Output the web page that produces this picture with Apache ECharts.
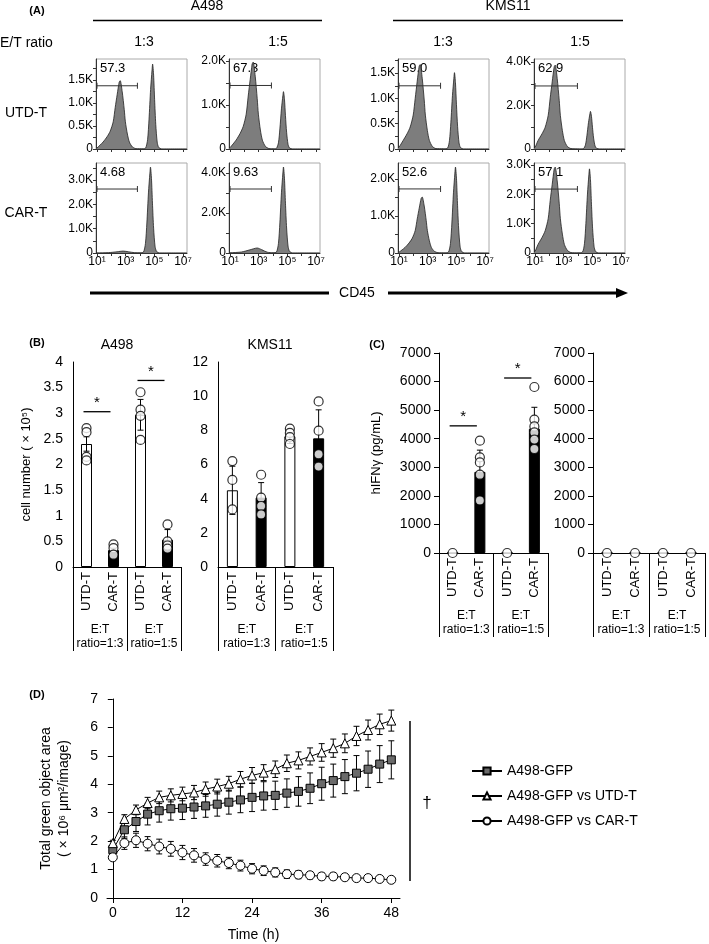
<!DOCTYPE html>
<html><head><meta charset="utf-8">
<script src="https://cdn.jsdelivr.net/npm/echarts@6/dist/echarts.min.js"></script>
<style>html,body{margin:0;padding:0;background:#fff}#c{width:709px;height:944px}</style>
</head><body><div id="c"></div>
<script>
const FONT = '"Liberation Sans", Arial, sans-serif';

// ---------- Panel A: CD45 histograms (x = log10 CD45, y = count) ----------
const histA498UTD13 = [[0.93,15],[1.0,22],[1.42,150],[1.7,265],[1.92,385],[2.13,590],[2.27,900],[2.41,1185],[2.55,1450],[2.62,1480],[2.76,1240],[2.9,860],[2.98,590],[3.12,325],[3.26,150],[3.47,45],[3.72,8],[4.2,5],[4.39,18],[4.53,200],[4.63,645],[4.74,1290],[4.84,1710],[4.88,1840],[4.95,1600],[5.02,1070],[5.1,535],[5.2,150],[5.3,37],[5.52,0],[7.28,0]];
const histA498UTD15 = [[0.93,20],[1.0,30],[1.42,200],[1.7,350],[1.92,510],[2.13,790],[2.27,1200],[2.41,1580],[2.55,1930],[2.62,1970],[2.76,1650],[2.9,1140],[2.98,790],[3.12,430],[3.26,200],[3.47,60],[3.72,10],[4.1,5],[4.24,13],[4.38,140],[4.48,455],[4.59,910],[4.69,1210],[4.73,1300],[4.8,1130],[4.87,755],[4.95,380],[5.05,105],[5.15,26],[5.37,0],[7.28,0]];
const histKMSUTD13 = [[0.93,25],[1.0,35],[1.28,165],[1.56,300],[1.78,435],[1.99,670],[2.13,1000],[2.27,1340],[2.41,1640],[2.48,1670],[2.62,1400],[2.76,970],[2.84,670],[2.98,365],[3.12,170],[3.33,50],[3.58,8],[4.1,5],[4.38,15],[4.52,165],[4.62,530],[4.73,1060],[4.83,1400],[4.87,1510],[4.94,1310],[5.01,875],[5.09,440],[5.19,120],[5.29,30],[5.51,0],[7.28,0]];
const histKMSUTD15 = [[0.93,50],[1.0,70],[1.21,385],[1.49,700],[1.71,1000],[1.92,1545],[2.06,2350],[2.2,3090],[2.34,3780],[2.41,3860],[2.55,3240],[2.69,2240],[2.77,1545],[2.91,850],[3.05,385],[3.26,115],[3.51,20],[4.1,5],[4.38,17],[4.52,190],[4.62,605],[4.73,1210],[4.83,1610],[4.87,1730],[4.94,1505],[5.01,1000],[5.09,500],[5.19,140],[5.29,35],[5.51,0],[7.28,0]];
const histA498CAR13 = [[0.93,5],[1.0,5],[1.8,15],[2.4,50],[2.83,80],[3.2,50],[3.6,15],[4.0,10],[4.24,35],[4.38,390],[4.48,1235],[4.59,2470],[4.69,3280],[4.73,3530],[4.8,3070],[4.87,2050],[4.95,1020],[5.05,280],[5.15,70],[5.37,0],[7.28,0]];
const histA498CAR15 = [[0.93,8],[1.0,10],[1.8,50],[2.4,160],[2.9,250],[3.2,170],[3.6,40],[4.0,15],[4.24,45],[4.38,475],[4.48,1505],[4.59,3010],[4.69,4000],[4.73,4300],[4.8,3740],[4.87,2490],[4.95,1250],[5.05,345],[5.15,86],[5.37,0],[7.28,0]];
const histKMSCAR13 = [[0.93,15],[1.0,22],[1.42,150],[1.7,270],[1.92,395],[2.13,605],[2.27,920],[2.41,1210],[2.55,1480],[2.62,1510],[2.76,1270],[2.9,875],[2.98,605],[3.12,330],[3.26,150],[3.47,45],[3.72,8],[4.2,5],[4.45,23],[4.59,255],[4.69,810],[4.8,1625],[4.9,2160],[4.94,2320],[5.01,2020],[5.08,1345],[5.16,675],[5.26,185],[5.36,46],[5.58,0],[7.28,0]];
const histKMSCAR15 = [[0.93,35],[1.0,50],[1.21,290],[1.49,530],[1.71,760],[1.92,1170],[2.06,1790],[2.2,2340],[2.34,2870],[2.41,2930],[2.55,2460],[2.69,1700],[2.77,1170],[2.91,645],[3.05,290],[3.26,90],[3.51,15],[4.0,5],[4.31,29],[4.45,315],[4.55,1005],[4.66,2010],[4.76,2670],[4.8,2870],[4.87,2500],[4.94,1665],[5.02,830],[5.12,230],[5.22,57],[5.44,0],[7.28,0]];
const histList = [histA498UTD13, histA498UTD15, histKMSUTD13, histKMSUTD15, histA498CAR13, histA498CAR15, histKMSCAR13, histKMSCAR15];
const gateTexts = ['57.3','67.3','59.0','62.9','4.68','9.63','52.6','57.1'];
const gateLevels = [1370,1440,1250,2900,2630,3200,1730,2180];
const gateEnds = [3.82,3.89,3.9,3.96,3.82,3.89,3.9,3.96];
const histYMax = [1950,2040,1780,4140,3700,4500,2430,3070];
const histYLabels = [[0,500,1000,1500],[0,1000,2000],[0,500,1000,1500],[0,2000,4000],[0,1000,2000,3000],[0,2000,4000],[0,1000,2000],[0,1000,2000,3000]];
const histXLabels = [1,3,5,7];
const histXTicks = [1,2,3,4,5,6,7];
const supMap = {1:'¹',3:'³',5:'⁵',7:'⁷'};

// ---------- Panel B / C ----------
const barCats = ['UTD-T','CAR-T','UTD-T','CAR-T'];
const groupCats = ['E:T\nratio=1:3','E:T\nratio=1:5'];
const bA498Means = [2.40,0.33,2.97,0.53];
const bA498SD = [0.14,0.05,0.30,0.20];
const bA498Dots = [[2.71,2.63,2.15,2.08],[0.44,0.37,0.24],[3.41,3.07,2.95,2.48],[0.83,0.50,0.42,0.36]];
const bKMSMeans = [4.49,4.06,7.65,7.53];
const bKMSSD = [1.41,0.88,0.42,1.67];
const bKMSDots = [[6.2,5.1,3.37],[5.4,4.06,3.57,3.08],[8.1,7.85,7.6,7.2],[9.69,7.98,6.6,5.88]];
const cA498Means = [0,2840,0,4350];
const cA498SD = [0,760,0,750];
const cA498Dots = [[0],[3930,3350,3170,2740,1840],[0],[5810,4670,4430,4220,3970,3640]];
const cKMSMeans = [0,0,0,0];
const cKMSSD = [0,0,0,0];
const cKMSDots = [[0],[0],[0],[0]];
const sigB = [[0,1,3.03],[2,3,3.64]];
const sigC = [[0,1,4450],[2,3,6125]];

// ---------- Panel D ----------
const timeH = [0,2,4,6,8,10,12,14,16,18,20,22,24,26,28,30,32,34,36,38,40,42,44,46,48];
const gfpMean = [1.70,2.40,2.69,2.95,3.07,3.14,3.16,3.20,3.24,3.30,3.37,3.45,3.54,3.59,3.61,3.69,3.75,3.86,4.02,4.13,4.27,4.39,4.53,4.71,4.86];
const gfpSD   = [0.15,0.30,0.35,0.38,0.40,0.40,0.40,0.40,0.40,0.42,0.42,0.45,0.50,0.50,0.50,0.50,0.52,0.54,0.58,0.58,0.60,0.62,0.64,0.65,0.67];
const utdMean = [1.93,2.78,3.10,3.34,3.54,3.61,3.66,3.71,3.83,3.92,4.02,4.18,4.31,4.41,4.53,4.74,4.84,4.98,5.12,5.27,5.44,5.70,5.91,6.11,6.24];
const utdSD   = [0.10,0.15,0.17,0.20,0.22,0.23,0.24,0.25,0.25,0.26,0.26,0.27,0.28,0.28,0.29,0.29,0.30,0.30,0.31,0.32,0.33,0.34,0.35,0.36,0.37];
const carMean = [1.43,1.93,2.03,1.91,1.81,1.73,1.60,1.50,1.37,1.31,1.23,1.14,1.03,0.96,0.90,0.84,0.82,0.80,0.76,0.76,0.73,0.70,0.70,0.67,0.64];
const carSD   = [0.10,0.22,0.25,0.25,0.26,0.26,0.25,0.24,0.22,0.22,0.20,0.19,0.18,0.17,0.16,0.15,0.14,0.13,0.12,0.12,0.11,0.10,0.10,0.10,0.10];
const dLegend = ['A498-GFP','A498-GFP vs UTD-T','A498-GFP vs CAR-T'];
const dXLabels = [0,12,24,36,48];

// ---------- build ----------
const grids = [], xAxes = [], yAxes = [], series = [], graphics = [];
const txt = (x, y, text, size, opts) => graphics.push({type:'text', x, y, style:Object.assign({text, fill:'#000', font:size+'px '+FONT, align:'center', verticalAlign:'middle'}, opts||{})});
const lineG = (x1,y1,x2,y2,w) => graphics.push({type:'line', shape:{x1,y1,x2,y2}, style:{stroke:'#000', lineWidth:w||1}});

// Panel A layout
const colLeft = [96,229,398,534], colW = 91, rowTop = [59,163], rowH = 90;
histList.forEach((h, i) => {
  const row = Math.floor(i/4), col = i%4;
  const gi = grids.length;
  grids.push({left:colLeft[col], top:rowTop[row], width:colW, height:rowH, show:true, borderColor:'#aaa', borderWidth:1});
  xAxes.push({gridIndex:gi, type:'value', min:0.93, max:7.28,
    axisLine:{show:true, lineStyle:{color:'#333', width:1}},
    axisTick:{show:true, customValues:histXTicks, length:3, lineStyle:{color:'#333'}},
    axisLabel:{show:row===1, customValues:histXLabels, formatter:v=>'10'+supMap[v], fontSize:12, color:'#000', fontFamily:FONT, margin:3},
    splitLine:{show:false}});
  const labs = histYLabels[i];
  const step = labs[1]-labs[0];
  const ticks = [];
  for (let v = 0; v <= histYMax[i]; v += step/2) ticks.push(v);
  yAxes.push({gridIndex:gi, type:'value', min:0, max:histYMax[i],
    axisLine:{show:true, lineStyle:{color:'#333', width:1}},
    axisTick:{show:true, customValues:ticks, length:3, lineStyle:{color:'#333'}},
    axisLabel:{customValues:labs, formatter:v=>v===0?'0':(v/1000).toFixed(1)+'K', fontSize:12, color:'#000', fontFamily:FONT, margin:3},
    splitLine:{show:false}});
  series.push({type:'line', xAxisIndex:gi, yAxisIndex:gi, data:h, smooth:0.25, symbol:'none',
    lineStyle:{color:'#222', width:0.8}, areaStyle:{color:'#7d7d7d', opacity:1}, z:2, silent:true});
  series.push({type:'line', xAxisIndex:gi, yAxisIndex:gi, data:[[1,gateLevels[i]],[gateEnds[i],gateLevels[i]]],
    symbol:'rect', symbolSize:[1,6], itemStyle:{color:'#333'}, lineStyle:{color:'#333', width:1}, z:3, silent:true});
  txt(colLeft[col]+4, rowTop[row]+9, gateTexts[i], 13, {align:'left'});
});

// Panel A texts
txt(37, 11, '(A)', 11, {font:'bold 11px '+FONT});
txt(207, 6, 'A498', 14); txt(508, 6, 'KMS11', 14);
lineG(93, 20.5, 322, 20.5, 1.5); lineG(393, 20.5, 623, 20.5, 1.5);
txt(0, 43, 'E/T ratio', 14, {align:'left'});
txt(144, 42, '1:3', 14); txt(278, 42, '1:5', 14); txt(443, 42, '1:3', 14); txt(580, 42, '1:5', 14);
txt(26, 113, 'UTD-T', 14); txt(26, 213, 'CAR-T', 14);
lineG(90, 293, 329, 293, 3); lineG(388, 293, 619, 293, 3);
graphics.push({type:'polygon', shape:{points:[[616,288],[628,293],[616,298]]}, style:{fill:'#000'}});
txt(357, 293, 'CD45', 14);

// Panel B / C bars
function errRender(cap){
  return function(params, api){
    const x = api.value(0), lo = api.value(1), hi = api.value(2);
    if (hi === lo) return null;
    const a = api.coord([x, lo]), b = api.coord([x, hi]);
    const st = {stroke:'#000', lineWidth:1};
    return {type:'group', children:[
      {type:'line', shape:{x1:a[0],y1:a[1],x2:b[0],y2:b[1]}, style:st},
      {type:'line', shape:{x1:b[0]-cap,y1:b[1],x2:b[0]+cap,y2:b[1]}, style:st},
      {type:'line', shape:{x1:a[0]-cap,y1:a[1],x2:a[0]+cap,y2:a[1]}, style:st}]};
  };
}
function sigRender(params, api){
  const a = api.coord([api.value(0), api.value(2)]);
  const b = api.coord([api.value(1), api.value(2)]);
  return {type:'group', children:[
    {type:'line', shape:{x1:a[0]-3,y1:a[1],x2:b[0]-3,y2:a[1]}, style:{stroke:'#000', lineWidth:1.3}},
    {type:'text', x:(a[0]+b[0])/2-3, y:a[1]-9, style:{text:'*', fill:'#000', font:'15px '+FONT, align:'center', verticalAlign:'middle'}}]};
}
function barPanel(cfg){
  const gi = grids.length;
  grids.push({left:cfg.left, top:cfg.top, width:cfg.width, height:cfg.height});
  const xi = xAxes.length;
  xAxes.push({gridIndex:gi, type:'category', data:barCats, position:'bottom',
    axisLine:{show:true, lineStyle:{color:'#000', width:1}}, axisTick:{show:false},
    axisLabel:{rotate:90, interval:0, fontSize:13, color:'#000', fontFamily:FONT, margin:5}});
  xAxes.push({gridIndex:gi, type:'category', data:groupCats, position:'bottom',
    axisLine:{show:false}, axisTick:{show:true, interval:0, length:84, lineStyle:{color:'#000', width:1}},
    axisLabel:{interval:0, hideOverlap:false, fontSize:12, color:'#000', fontFamily:FONT, margin:56, lineHeight:14, align:'center'}});
  const yi = yAxes.length;
  yAxes.push({gridIndex:gi, type:'value', min:0, max:cfg.max, interval:cfg.interval,
    axisLine:{show:true, lineStyle:{color:'#000', width:1}},
    axisTick:{show:cfg.ticks, length:5, lineStyle:{color:'#000'}},
    axisLabel:{fontSize:14, color:'#000', fontFamily:FONT, margin:cfg.ticks?8:10, formatter:v=>String(v)},
    splitLine:{show:false},
    name:cfg.yName||'', nameLocation:'middle', nameGap:cfg.nameGap||0, nameRotate:90,
    nameTextStyle:{fontSize:13, color:'#000', fontFamily:FONT}});
  series.push({type:'bar', xAxisIndex:xi, yAxisIndex:yi, barWidth:11, z:2,
    data:cfg.means.map((m,k)=>({value:m, itemStyle:{color:k%2?'#000':'#fff', borderColor:'#000', borderWidth:1}}))});
  series.push({type:'custom', xAxisIndex:xi, yAxisIndex:yi, z:3, renderItem:errRender(3),
    encode:{x:0, y:[1,2]}, data:cfg.means.map((m,k)=>[k, m-cfg.sd[k], m+cfg.sd[k]])});
  const dots = [];
  cfg.dots.forEach((arr,k)=>arr.forEach(v=>dots.push([k, v])));
  series.push({type:'scatter', xAxisIndex:xi, yAxisIndex:yi, z:5, symbol:'circle', symbolSize:9,
    itemStyle:{color:'#fff', borderColor:'#000', borderWidth:1.2}, data:dots});
  if (cfg.sig) series.push({type:'custom', xAxisIndex:xi, yAxisIndex:yi, z:4, renderItem:sigRender,
    encode:{x:[0,1], y:2}, data:cfg.sig});
}
barPanel({left:73, top:362, width:108, height:205, max:4, interval:0.5, ticks:false, means:bA498Means, sd:bA498SD, dots:bA498Dots, sig:sigB, yName:'cell number ( × 10⁵)', nameGap:40});
barPanel({left:218, top:362, width:115, height:205, max:12, interval:2, ticks:false, means:bKMSMeans, sd:bKMSSD, dots:bKMSDots});
barPanel({left:439, top:353, width:109, height:200, max:7000, interval:1000, ticks:true, means:cA498Means, sd:cA498SD, dots:cA498Dots, sig:sigC, yName:'hIFNγ (pg/mL)', nameGap:56});
barPanel({left:593, top:353, width:112, height:200, max:7000, interval:1000, ticks:true, means:cKMSMeans, sd:cKMSSD, dots:cKMSDots});

txt(37, 343, '(B)', 11, {font:'bold 11px '+FONT});
txt(117, 345, 'A498', 14); txt(270, 345, 'KMS11', 14);
txt(377, 345, '(C)', 11, {font:'bold 11px '+FONT});

// Panel D
(function(){
  const gi = grids.length;
  grids.push({left:107, top:699, width:293, height:199});
  const xi = xAxes.length;
  xAxes.push({gridIndex:gi, type:'value', min:-1, max:49.5,
    axisLine:{show:true, lineStyle:{color:'#000', width:1}},
    axisTick:{show:true, customValues:dXLabels, length:5, lineStyle:{color:'#000'}},
    axisLabel:{customValues:dXLabels, fontSize:14, color:'#000', fontFamily:FONT, margin:8},
    splitLine:{show:false},
    name:'Time (h)', nameLocation:'middle', nameGap:30, nameTextStyle:{fontSize:14, color:'#000', fontFamily:FONT}});
  const yi = yAxes.length;
  yAxes.push({gridIndex:gi, type:'value', min:0, max:7, interval:1,
    axisLine:{show:true, lineStyle:{color:'#000', width:1}},
    axisTick:{show:true, length:5, lineStyle:{color:'#000'}},
    axisLabel:{fontSize:14, color:'#000', fontFamily:FONT, margin:9},
    splitLine:{show:false},
    name:'Total green object area\n( × 10⁶ μm²/image)', nameLocation:'middle', nameGap:34, nameRotate:90,
    nameTextStyle:{fontSize:14, color:'#000', fontFamily:FONT, lineHeight:18}});
  const sets = [
    {name:dLegend[0], mean:gfpMean, sd:gfpSD, symbol:'rect', color:'#6a6a6a', size:8},
    {name:dLegend[1], mean:utdMean, sd:utdSD, symbol:'triangle', color:'#fff', size:9},
    {name:dLegend[2], mean:carMean, sd:carSD, symbol:'circle', color:'#fff', size:9}];
  sets.forEach((s) => {
    series.push({type:'custom', xAxisIndex:xi, yAxisIndex:yi, z:2, renderItem:errRender(3),
      encode:{x:0, y:[1,2]}, data:timeH.map((t,j)=>[t, s.mean[j]-s.sd[j], s.mean[j]+s.sd[j]])});
  });
  sets.forEach((s, k) => {
    series.push({type:'line', name:s.name, xAxisIndex:xi, yAxisIndex:yi, z:4+k,
      data:timeH.map((t,j)=>[t, s.mean[j]]), symbol:s.symbol, symbolSize:s.size, showAllSymbol:true,
      lineStyle:{color:'#000', width:1}, itemStyle:{color:s.color, borderColor:'#000', borderWidth:1}});
  });
})();
txt(37, 695, '(D)', 11, {font:'bold 11px '+FONT});
lineG(410, 721, 410, 881, 1.5);
txt(427, 803, '†', 17);

const chart = echarts.init(document.getElementById('c'), null, {renderer:'canvas'});
chart.setOption({
  animation:false,
  backgroundColor:'#fff',
  textStyle:{fontFamily:FONT},
  grid:grids, xAxis:xAxes, yAxis:yAxes, series,
  legend:{data:dLegend, orient:'vertical', left:466, top:759, itemWidth:30, itemHeight:9, itemGap:11,
    textStyle:{fontSize:14, color:'#000', fontFamily:FONT}, selectedMode:false},
  graphic:graphics
});
</script></body></html>
